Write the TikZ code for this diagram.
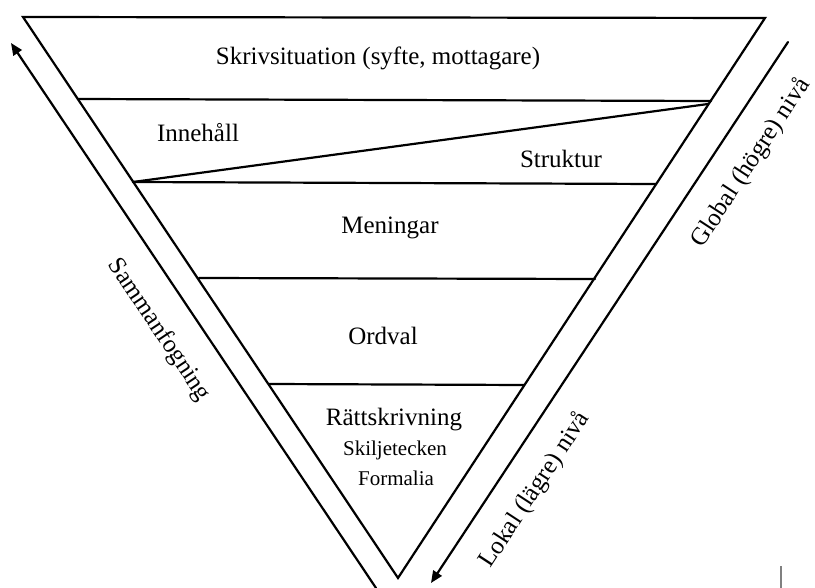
\documentclass[tikz,border=0pt]{standalone}
\usepackage{fontspec}
\setmainfont{Liberation Serif}
\usetikzlibrary{arrows.meta}
\begin{document}
\begin{tikzpicture}[x=1pt,y=-1pt,
  edge/.style={line width=2.2pt,line cap=round,line join=miter},
  lbl/.style={inner sep=0pt,font=\fontsize{25}{28}\selectfont},
  slbl/.style={inner sep=0pt,font=\fontsize{21}{24}\selectfont},
  side/.style={edge,-{Triangle[length=12pt,width=10pt]}}]
\useasboundingbox[fill=white] (0,0) rectangle (815,588);
% triangle corners
\coordinate (TL) at (23,17);
\coordinate (TR) at (765,18);
\coordinate (A) at (398,578);
% layer boundaries
\coordinate (L2a) at (78,99);   \coordinate (L2b) at (711,101);
\coordinate (Da)  at (133,182); \coordinate (Db)  at (708,104);
\coordinate (L3b) at (656,184);
\coordinate (L4a) at (199,278); \coordinate (L4b) at (595,279);
\coordinate (L5a) at (269,384); \coordinate (L5b) at (524,385);
\draw[edge] (TL) -- (TR) -- (A) -- cycle;
\draw[edge] (L2a) -- (L2b);
\draw[edge] (Da) -- (Db);
\draw[edge] (Da) -- (L3b);
\draw[edge] (L4a) -- (L4b);
\draw[edge] (L5a) -- (L5b);
% side arrows
\coordinate (SLs) at (376,588); \coordinate (SLe) at (11,43);
\coordinate (SRs) at (788,42);  \coordinate (SRe) at (431,583);
\draw[side] (SLs) -- (SLe);
\draw[side] (SRs) -- (SRe);
% small grey mark
\coordinate (Ma) at (781,566); \coordinate (Mb) at (781,588);
\draw[gray,line width=1.5pt] (Ma) -- (Mb);
% labels
\node[lbl,anchor=base] (skriv) at (378,65) {Skrivsituation (syfte, mottagare)};
\node[lbl,anchor=base] (inne) at (198,142) {Innehåll};
\node[lbl,anchor=base] (strukt) at (561,168) {Struktur};
\node[lbl,anchor=base] (men) at (390,234) {Meningar};
\node[lbl,anchor=base] (ord) at (383,345) {Ordval};
\node[lbl,anchor=base] (ratt) at (394,425) {Rättskrivning};
\node[slbl,anchor=base] (skilj) at (395,455) {Skiljetecken};
\node[slbl,anchor=base] (form) at (396,485) {Formalia};
\node[lbl,rotate=-56.2] (samman) at (159,330) {Sammanfogning};
\node[lbl,rotate=56.8] (glob) at (751,163) {Global (högre) nivå};
\node[lbl,rotate=56.8] (lok) at (535,490) {Lokal (lägre) nivå};
\end{tikzpicture}
\end{document}
